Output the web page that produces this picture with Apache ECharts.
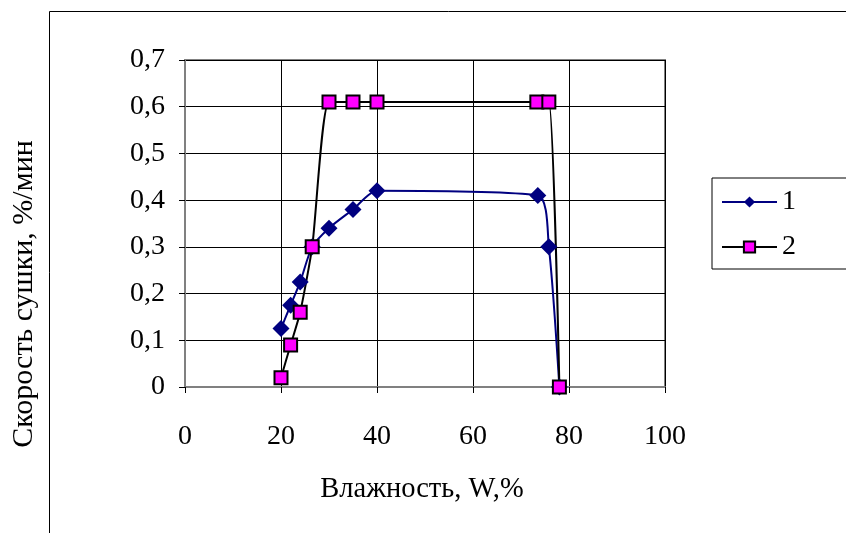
<!DOCTYPE html>
<html>
<head>
<meta charset="utf-8">
<script src="https://cdn.jsdelivr.net/npm/echarts@6/dist/echarts.min.js"></script>
<style>
  html, body { margin: 0; padding: 0; background: #fff; }
  #main { width: 846px; height: 533px; }
</style>
</head>
<body>
<div id="main"></div>
<script>
// влажность W, % и скорость сушки, %/мин
var moisture1 = [20, 22, 24, 26.5, 30, 35, 40, 73.5, 75.8, 78];
var rate1 = [0.125, 0.175, 0.225, 0.30, 0.34, 0.38, 0.42, 0.41, 0.30, 0];
var moisture2 = [20, 22, 24, 26.5, 30, 35, 40, 73.3, 75.8, 78];
var rate2 = [0.02, 0.09, 0.16, 0.30, 0.61, 0.61, 0.61, 0.61, 0.61, 0];
var seriesNames = ['1', '2'];
var xTicks = [0, 100, 20];
var yTicks = [0, 0.7, 0.1];

var toPairs = function (xs, ys) {
  var out = [];
  for (var i = 0; i < xs.length; i++) out.push([xs[i], ys[i]]);
  return out;
};

var font = '"Liberation Serif", "Times New Roman", serif';
var chartDom = document.getElementById('main');
var myChart = echarts.init(chartDom, null, { renderer: 'canvas' });

var option = {
  backgroundColor: '#fff',
  animation: false,
  textStyle: { fontFamily: font, color: '#000' },
  graphic: [
    {
      type: 'rect',
      shape: { x: 49.5, y: 11.5, width: 900, height: 600 },
      style: { fill: 'none', stroke: '#000', lineWidth: 1 }
    },
    {
      type: 'text',
      x: 24, y: 294,
      rotation: Math.PI / 2,
      style: {
        text: 'Скорость сушки, %/мин',
        font: '30px ' + font,
        fill: '#000',
        align: 'center',
        verticalAlign: 'middle'
      }
    },
    {
      type: 'text',
      x: 422, y: 490,
      style: {
        text: 'Влажность, W,%',
        font: '28.5px ' + font,
        fill: '#000',
        align: 'center',
        verticalAlign: 'middle'
      }
    }
  ],
  grid: {
    left: 185, right: 181, top: 60, bottom: 146,
    show: true,
    borderColor: '#808080',
    borderWidth: 2
  },
  legend: {
    orient: 'vertical',
    left: 712, top: 178,
    padding: [10, 70, 8, 9],
    itemWidth: 55,
    itemHeight: 14,
    itemGap: 17,
    borderColor: '#000',
    borderWidth: 1,
    textStyle: { fontSize: 28, fontFamily: font, color: '#000' },
    data: seriesNames
  },
  xAxis: {
    type: 'value',
    min: xTicks[0], max: xTicks[1], interval: xTicks[2],
    axisLine: { show: true, lineStyle: { color: '#808080', width: 2 } },
    axisTick: { show: true, length: 6, lineStyle: { color: '#000' } },
    axisLabel: { fontSize: 28, fontFamily: font, color: '#000', margin: 36 },
    splitLine: { show: true, lineStyle: { color: '#000', width: 1 } }
  },
  yAxis: {
    type: 'value',
    min: yTicks[0], max: yTicks[1], interval: yTicks[2],
    axisLine: { show: true, lineStyle: { color: '#808080', width: 2 } },
    axisTick: { show: true, length: 6, lineStyle: { color: '#000' } },
    axisLabel: {
      fontSize: 28, fontFamily: font, color: '#000', margin: 20,
      formatter: function (v) { return String(Math.round(v * 10) / 10).replace('.', ','); }
    },
    splitLine: { show: true, lineStyle: { color: '#000', width: 1 } }
  },
  series: [
    {
      name: seriesNames[0],
      type: 'line',
      smooth: 0.25,
      data: toPairs(moisture1, rate1),
      symbol: 'diamond',
      symbolSize: 17,
      itemStyle: { color: '#000080' },
      lineStyle: { color: '#000080', width: 2 }
    },
    {
      name: seriesNames[1],
      type: 'line',
      smooth: 0.2,
      data: toPairs(moisture2, rate2),
      symbol: 'rect',
      symbolSize: 13,
      itemStyle: { color: '#ff00ff', borderColor: '#000', borderWidth: 2 },
      lineStyle: { color: '#000', width: 2 }
    }
  ]
};

option && myChart.setOption(option, true);
window.onresize = () => {
  myChart.resize();
};
</script>
</body>
</html>
